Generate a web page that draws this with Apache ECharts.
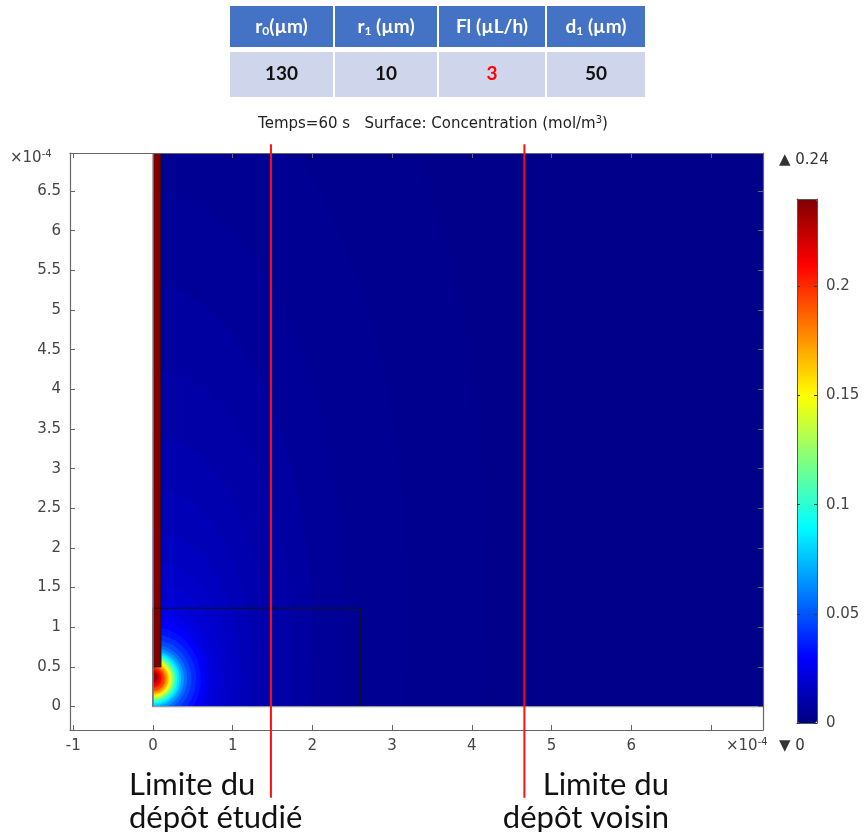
<!DOCTYPE html>
<html><head><meta charset="utf-8">
<script src="https://cdn.jsdelivr.net/npm/echarts@6/dist/echarts.min.js"></script>
<style>html,body{margin:0;padding:0;background:#fff}#c{width:864px;height:832px}</style>
</head><body><div id="c"></div>
<script>
// ---------- data (lengths in units of 1e-4 m, concentration in mol/m3) ----------
const xTickValues = [-1, 0, 1, 2, 3, 4, 5, 6, 7];
const xLabelValues = [-1, 0, 1, 2, 3, 4, 5, 6];
const yTickValues = [0, 0.5, 1, 1.5, 2, 2.5, 3, 3.5, 4, 4.5, 5, 5.5, 6, 6.5];
const colorbarTicks = [0, 0.05, 0.1, 0.15, 0.2];
const concMin = 0, concMax = 0.24;

const tableHeaders = ['r{s|0}(µm)', 'r{s|1} (µm)', 'Fl (µL/h)', 'd{s|1} (µm)'];
const tableValues = ['130', '10', '3', '50'];
const tableHighlight = [false, false, true, false];

const titleText = 'Temps=60 s   Surface: Concentration (mol/m{sup|3})';

// domain and geometry
const domainX = [0, 7.654];
const domainY = [0, 7.0];
const backgroundConc = 0.0025;
const capillaryBox = [0, 0.1, 0.5, 7.0];   // x0, x1, y0, y1
const capillaryConc = 0.24;
const studyBox = [0, 2.6, 0, 1.24];        // x0, x1, y0, y1
const limitX = [1.48, 4.66];
const limitNames = ['Limite du\ndépôt étudié', 'Limite du\ndépôt voisin'];

// iso-concentration contours: level, centre y, half-width (x), half-height (y)
const contourLevel = [0.0035, 0.0045, 0.006, 0.0075, 0.009, 0.011, 0.013, 0.015, 0.017, 0.019,
  0.022, 0.025, 0.029, 0.034, 0.040, 0.047, 0.055, 0.065, 0.075, 0.085,
  0.095, 0.105, 0.115, 0.125, 0.135, 0.145, 0.155, 0.165, 0.175, 0.185,
  0.195, 0.205, 0.215, 0.225, 0.235];
const contourCy = [1.5, 1.2, 1.0, 0.8, 0.65, 0.5, 0.45, 0.4, 0.38, 0.36,
  0.35, 0.35, 0.35, 0.35, 0.35, 0.35, 0.35, 0.35, 0.35, 0.35,
  0.35, 0.35, 0.35, 0.35, 0.35, 0.35, 0.35, 0.35, 0.35, 0.35,
  0.35, 0.36, 0.36, 0.37, 0.37];
const contourRx = [4.2, 3.2, 2.4, 2.0, 1.75, 1.45, 1.25, 1.1, 0.98, 0.88,
  0.78, 0.70, 0.65, 0.60, 0.54, 0.48, 0.43, 0.39, 0.355, 0.33,
  0.305, 0.285, 0.27, 0.255, 0.24, 0.225, 0.21, 0.195, 0.18, 0.16,
  0.145, 0.12, 0.10, 0.075, 0.05];
const contourRy = [9.0, 7.0, 5.5, 4.5, 3.6, 2.9, 2.3, 1.8, 1.45, 1.2,
  1.0, 0.88, 0.76, 0.65, 0.56, 0.49, 0.43, 0.39, 0.355, 0.33,
  0.31, 0.29, 0.275, 0.26, 0.245, 0.23, 0.215, 0.2, 0.185, 0.165,
  0.15, 0.125, 0.105, 0.08, 0.055];

// ---------- build ----------
const jet = ['#000080', '#0000FF', '#0080FF', '#00FFFF', '#80FF80', '#FFFF00', '#FF8000', '#FF0000', '#800000'];
const axisColor = '#666';
const labelColor = '#444';
const tickFont = 'DejaVu Sans';

const contourData = contourLevel.map((v, i) => [v, contourCy[i], contourRx[i], contourRy[i]]);

function renderBackground(params, api) {
  const a = api.coord([api.value(1), api.value(4)]);
  const b = api.coord([api.value(2), api.value(3)]);
  return {
    type: 'rect',
    shape: { x: a[0], y: a[1], width: b[0] - a[0], height: b[1] - a[1] },
    style: { fill: api.visual('color') }
  };
}
function renderContour(params, api) {
  const cy = api.value(1), rx = api.value(2), ry = api.value(3);
  const pts = [];
  const n = 90;
  for (let k = 0; k <= n; k++) {
    const th = -Math.PI / 2 + Math.PI * k / n;
    pts.push(api.coord([rx * Math.cos(th), Math.max(0, cy + ry * Math.sin(th))]));
  }
  return { type: 'polygon', shape: { points: pts }, style: { fill: api.visual('color') } };
}
function renderCapillary(params, api) {
  const x0 = api.value(1), x1 = api.value(2), y0 = api.value(3), y1 = api.value(4);
  const a = api.coord([x0, y1]);
  const b = api.coord([x1, y0]);
  return {
    type: 'group',
    children: [
      { type: 'rect', shape: { x: a[0], y: a[1], width: b[0] - a[0], height: b[1] - a[1] }, style: { fill: api.visual('color') } },
      { type: 'polyline', shape: { points: [api.coord([x1, y1]), api.coord([x1, y0]), api.coord([x0, y0])] },
        style: { stroke: '#111', lineWidth: 1, fill: null } }
    ]
  };
}
function renderBox(params, api) {
  const a = api.coord([api.value(0), api.value(3)]);
  const b = api.coord([api.value(1), api.value(2)]);
  return {
    type: 'rect',
    shape: { x: a[0], y: a[1], width: b[0] - a[0], height: b[1] - a[1] },
    style: { fill: null, stroke: '#111', lineWidth: 1 }
  };
}
function renderDomainEdge(params, api) {
  return {
    type: 'polyline',
    shape: { points: [api.coord([api.value(0), api.value(3)]), api.coord([api.value(0), api.value(2)]), api.coord([api.value(1), api.value(2)])] },
    style: { stroke: '#999', lineWidth: 1.2, fill: null }
  };
}
function renderLimit(params, api) {
  const x = api.value(0);
  const top = api.coord([x, 7.09]);
  const bot = api.coord([x, -1.15]);
  return {
    type: 'line',
    shape: { x1: top[0], y1: top[1], x2: bot[0], y2: bot[1] },
    style: { stroke: '#FF1010', lineWidth: 2 }
  };
}

const mainAxisCommon = {
  axisLine: { show: true, onZero: false, lineStyle: { color: axisColor, width: 1.2 } },
  splitLine: { show: false },
  z: 10
};

const chart = echarts.init(document.getElementById('c'), null, { renderer: 'canvas' });

// table graphics
const cols = [[230, 333], [335, 437], [439, 545], [547, 645]];
const graphics = [];
cols.forEach((c, i) => {
  graphics.push({ type: 'rect', shape: { x: c[0], y: 6, width: c[1] - c[0], height: 41 }, style: { fill: '#4472C4' } });
  graphics.push({ type: 'rect', shape: { x: c[0], y: 52, width: c[1] - c[0], height: 45 }, style: { fill: '#CFD5EA' } });
  graphics.push({ type: 'text', style: {
    text: tableHeaders[i], x: (c[0] + c[1]) / 2, y: 27, align: 'center', verticalAlign: 'middle',
    fill: '#fff', fontSize: 19, fontWeight: 'bold', fontFamily: 'Lato',
    rich: { s: { fontSize: 12, fontWeight: 'bold', fontFamily: 'Lato', fill: '#fff', padding: [9, 0, 0, 0] } }
  } });
  graphics.push({ type: 'text', style: {
    text: tableValues[i], x: (c[0] + c[1]) / 2, y: 74, align: 'center', verticalAlign: 'middle',
    fill: tableHighlight[i] ? '#FF0000' : '#111', fontSize: 19, fontWeight: 'bold', fontFamily: 'Lato'
  } });
});
graphics.push({ type: 'text', style: {
  text: titleText, x: 433, y: 124, align: 'center', verticalAlign: 'middle',
  fill: '#222', fontSize: 15, fontFamily: tickFont,
  rich: { sup: { fontSize: 10, fontFamily: tickFont, fill: '#222', padding: [0, 0, 8, 0] } }
} });
graphics.push({ type: 'text', style: {
  text: '×10{sup|-4}', x: 10, y: 158, align: 'left', verticalAlign: 'middle',
  fill: labelColor, fontSize: 15, fontFamily: tickFont,
  rich: { sup: { fontSize: 10, fontFamily: tickFont, fill: labelColor, padding: [0, 0, 8, 0] } }
} });
graphics.push({ type: 'text', style: {
  text: '×10{sup|-4}', x: 726, y: 746, align: 'left', verticalAlign: 'middle',
  fill: labelColor, fontSize: 15, fontFamily: tickFont,
  rich: { sup: { fontSize: 10, fontFamily: tickFont, fill: labelColor, padding: [0, 0, 8, 0] } }
} });
graphics.push({ type: 'text', style: {
  text: '▲ ' + concMax, x: 779, y: 160, align: 'left', verticalAlign: 'middle',
  fill: '#333', fontSize: 15, fontFamily: tickFont
} });
graphics.push({ type: 'text', style: {
  text: '▼ ' + concMin, x: 779, y: 746, align: 'left', verticalAlign: 'middle',
  fill: '#333', fontSize: 15, fontFamily: tickFont
} });
// annotations under the limit lines
graphics.push({ type: 'text', style: {
  text: limitNames[0], x: 129, y: 768, align: 'left', verticalAlign: 'top',
  fill: '#111', fontSize: 31, lineHeight: 33, fontFamily: 'Lato'
} });
graphics.push({ type: 'text', style: {
  text: limitNames[1], x: 669, y: 768, align: 'right', verticalAlign: 'top',
  fill: '#111', fontSize: 31, lineHeight: 33, fontFamily: 'Lato'
} });

const option = {
  backgroundColor: '#fff',
  animation: false,
  graphic: { elements: graphics },
  grid: [
    { left: 70, top: 153, width: 693, height: 577, containLabel: false },
    { left: 797, top: 199, width: 20, height: 524, containLabel: false }
  ],
  xAxis: [
    Object.assign({}, mainAxisCommon, { type: 'value', gridIndex: 0, position: 'bottom', min: -1.041, max: 7.654,
      axisTick: { show: true, inside: true, length: 5, customValues: xTickValues, lineStyle: { color: axisColor } },
      axisLabel: { show: true, customValues: xLabelValues, color: labelColor, fontSize: 15, fontFamily: tickFont, margin: 9 } }),
    Object.assign({}, mainAxisCommon, { type: 'value', gridIndex: 0, position: 'top', min: -1.041, max: 7.654,
      axisTick: { show: true, inside: true, length: 5, customValues: xTickValues, lineStyle: { color: axisColor } },
      axisLabel: { show: false } }),
    { type: 'value', gridIndex: 1, position: 'bottom', min: 0, max: 1, z: 10,
      axisLine: { show: true, onZero: false, lineStyle: { color: '#555' } }, axisTick: { show: false }, axisLabel: { show: false }, splitLine: { show: false } },
    { type: 'value', gridIndex: 1, position: 'top', min: 0, max: 1, z: 10,
      axisLine: { show: true, onZero: false, lineStyle: { color: '#555' } }, axisTick: { show: false }, axisLabel: { show: false }, splitLine: { show: false } }
  ],
  yAxis: [
    Object.assign({}, mainAxisCommon, { type: 'value', gridIndex: 0, position: 'left', min: -0.296, max: 6.98,
      axisTick: { show: true, inside: true, length: 5, customValues: yTickValues, lineStyle: { color: axisColor } },
      axisLabel: { show: true, customValues: yTickValues, color: labelColor, fontSize: 15, fontFamily: tickFont, margin: 9 } }),
    Object.assign({}, mainAxisCommon, { type: 'value', gridIndex: 0, position: 'right', min: -0.296, max: 6.98,
      axisTick: { show: true, inside: true, length: 5, customValues: yTickValues, lineStyle: { color: axisColor } },
      axisLabel: { show: false } }),
    { type: 'value', gridIndex: 1, position: 'right', min: concMin, max: concMax, z: 10,
      axisLine: { show: true, onZero: false, lineStyle: { color: '#555' } },
      axisTick: { show: true, inside: true, length: 3, customValues: colorbarTicks, lineStyle: { color: '#333' } },
      axisLabel: { show: true, customValues: colorbarTicks, color: labelColor, fontSize: 15, fontFamily: tickFont, margin: 9,
        formatter: v => String(+v.toFixed(2)) },
      splitLine: { show: false } },
    { type: 'value', gridIndex: 1, position: 'left', min: concMin, max: concMax, z: 10,
      axisLine: { show: true, onZero: false, lineStyle: { color: '#555' } },
      axisTick: { show: true, inside: true, length: 3, customValues: colorbarTicks, lineStyle: { color: '#333' } },
      axisLabel: { show: false }, splitLine: { show: false } }
  ],
  visualMap: {
    type: 'continuous', min: concMin, max: concMax, dimension: 0, seriesIndex: [0, 1, 2],
    inRange: { color: jet },
    left: 797, top: 199, itemWidth: 20, itemHeight: 524, padding: 0,
    calculable: false, hoverLink: false, text: null, orient: 'vertical', z: 4
  },
  series: [
    { type: 'custom', name: 'background', xAxisIndex: 0, yAxisIndex: 0, clip: true, silent: true,
      renderItem: renderBackground, data: [[backgroundConc, domainX[0], domainX[1], domainY[0], domainY[1]]] },
    { type: 'custom', name: 'concentration', xAxisIndex: 0, yAxisIndex: 0, clip: true, silent: true,
      renderItem: renderContour, data: contourData },
    { type: 'custom', name: 'capillary', xAxisIndex: 0, yAxisIndex: 0, clip: true, silent: true,
      renderItem: renderCapillary, data: [[capillaryConc].concat(capillaryBox)] },
    { type: 'custom', name: 'study box', xAxisIndex: 0, yAxisIndex: 0, clip: true, silent: true,
      renderItem: renderBox, data: [studyBox] },
    { type: 'custom', name: 'domain edge', xAxisIndex: 0, yAxisIndex: 0, clip: true, silent: true,
      renderItem: renderDomainEdge, data: [[domainX[0], domainX[1], domainY[0], domainY[1]]] },
    { type: 'custom', name: 'limits', xAxisIndex: 0, yAxisIndex: 0, clip: false, silent: true, z: 30,
      renderItem: renderLimit, data: limitX.map(x => [x]) }
  ]
};
chart.setOption(option);
</script>
</body></html>
